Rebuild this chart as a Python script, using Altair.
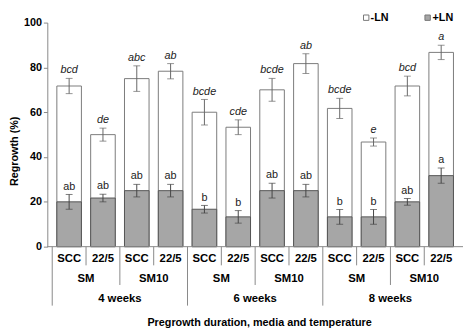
import altair as alt
import pandas as pd

weeks = ["4 weeks", "6 weeks", "8 weeks"]
media = ["SM", "SM10"]
temps = ["SCC", "22/5"]

neg_vals = [71.7, 50.0, 75.0, 78.3, 60.0, 53.3, 70.0, 81.7, 61.7, 46.7, 71.7, 86.7]
neg_err = [3.4, 2.9, 5.7, 3.4, 5.7, 3.3, 5.1, 4.4, 4.5, 1.8, 4.4, 3.2]
neg_let = ["bcd", "de", "abc", "ab", "bcde", "cde", "bcde", "ab", "bcde", "e", "bcd", "a"]

pos_vals = [20.0, 21.7, 25.0, 25.0, 16.7, 13.3, 25.0, 25.0, 13.3, 13.3, 20.0, 31.7]
pos_err = [3.3, 1.7, 2.8, 2.8, 1.7, 2.8, 3.3, 2.8, 3.3, 3.3, 1.5, 3.4]
pos_let = ["ab", "ab", "ab", "ab", "b", "b", "ab", "ab", "b", "b", "ab", "a"]

legend_labels = ["-LN", "+LN"]
x_title = "Pregrowth duration, media and temperature"
y_title = "Regrowth (%)"

FONT = "Liberation Sans"
W, H = 423, 228

rows = []
i = 0
for w in weeks:
    for m in media:
        for t in temps:
            rows.append(dict(idx=i, week=w, media=m, temp=t,
                             neg=neg_vals[i], neg_lo=neg_vals[i] - neg_err[i], neg_hi=neg_vals[i] + neg_err[i],
                             neg_let=neg_let[i],
                             pos=pos_vals[i], pos_lo=pos_vals[i] - pos_err[i], pos_hi=pos_vals[i] + pos_err[i],
                             pos_let=pos_let[i]))
            i += 1
df = pd.DataFrame(rows)

media_df = pd.DataFrame([dict(idx=2 * k + 0.5, label=media[k % 2]) for k in range(6)])
week_df = pd.DataFrame([dict(idx=4 * k + 1.5, label=weeks[k]) for k in range(3)])

div_temp = pd.DataFrame({"p": [b - 0.5 for b in range(12) if b % 2 == 1]})
div_media = pd.DataFrame({"p": [b - 0.5 for b in range(12) if b % 4 == 2]})
div_week = pd.DataFrame({"p": [b - 0.5 for b in range(12) if b % 4 == 0]})

xs = alt.Scale(domain=[-0.5, 11.5], nice=False, zero=False)
ys = alt.Scale(domain=[0, 100], nice=False)
X = alt.X("idx:Q", scale=xs, axis=None)

base = alt.Chart(df)

white = base.mark_bar(size=25, fill="white", stroke="#7a7a7a", strokeWidth=1).encode(
    x=X,
    y=alt.Y("neg:Q", scale=ys,
            axis=alt.Axis(values=[0, 20, 40, 60, 80, 100], title=None, grid=False,
                          labelFont=FONT, labelFontSize=11, labelFontWeight="bold",
                          labelColor="#000", tickSize=4, tickColor="#888", domainColor="#888",
                          labelPadding=2)),
)
grey = base.mark_bar(size=25, fill="#a6a6a6", stroke="#555555", strokeWidth=1).encode(
    x=X, y=alt.Y("pos:Q", scale=ys)
)


def errbars(lo, hi, color):
    r = base.mark_rule(color=color, strokeWidth=1).encode(
        x=X, y=alt.Y(f"{lo}:Q", scale=ys), y2=f"{hi}:Q")
    c1 = base.mark_tick(orient="horizontal", size=7, thickness=1, color=color).encode(
        x=X, y=alt.Y(f"{lo}:Q", scale=ys))
    c2 = base.mark_tick(orient="horizontal", size=7, thickness=1, color=color).encode(
        x=X, y=alt.Y(f"{hi}:Q", scale=ys))
    return [r, c1, c2]


err_neg = errbars("neg_lo", "neg_hi", "#666666")
err_pos = errbars("pos_lo", "pos_hi", "#444444")

txt_neg = base.mark_text(font=FONT, fontSize=11, fontStyle="italic", baseline="bottom", dy=-3,
                         color="#222").encode(x=X, y=alt.Y("neg_hi:Q", scale=ys), text="neg_let:N")
txt_pos = base.mark_text(font=FONT, fontSize=11, baseline="bottom", dy=-3,
                         color="#222").encode(x=X, y=alt.Y("pos_hi:Q", scale=ys), text="pos_let:N")

baseline = alt.Chart(pd.DataFrame({"a": [0]})).mark_rule(color="#888").encode(
    x=alt.value(0), x2=alt.value(W), y=alt.value(H))

row1 = base.mark_text(font=FONT, fontSize=11.5, fontWeight="bold", color="#000").encode(
    x=X, y=alt.value(H + 13), text="temp:N")
row2 = alt.Chart(media_df).mark_text(font=FONT, fontSize=11.5, fontWeight="bold", color="#000").encode(
    x=alt.X("idx:Q", scale=xs, axis=None), y=alt.value(H + 33), text="label:N")
row3 = alt.Chart(week_df).mark_text(font=FONT, fontSize=11.5, fontWeight="bold", color="#000").encode(
    x=alt.X("idx:Q", scale=xs, axis=None), y=alt.value(H + 53), text="label:N")


def dividers(d, length):
    return alt.Chart(d).mark_rule(color="#888").encode(
        x=alt.X("p:Q", scale=xs, axis=None), y=alt.value(H), y2=alt.value(H + length))


div1 = dividers(div_temp, 19)
div2 = dividers(div_media, 39)
div3 = dividers(div_week, 60)

xtitle = alt.Chart(pd.DataFrame({"t": [x_title]})).mark_text(
    font=FONT, fontSize=11, fontWeight="bold", color="#000").encode(
    x=alt.value(216), y=alt.value(H + 78), text="t:N")
ytitle = alt.Chart(pd.DataFrame({"t": [y_title]})).mark_text(
    font=FONT, fontSize=11, fontWeight="bold", color="#000", angle=270).encode(
    x=alt.value(-33), y=alt.value(131), text="t:N")

leg_df = pd.DataFrame({"label": legend_labels, "fill": ["white", "#a6a6a6"],
                       "sx": [324.5, 387], "tx": [329, 392]})
leg_sq = alt.Chart(leg_df).mark_square(size=30, strokeWidth=1, stroke="#777", opacity=1).encode(
    x=alt.X("sx:Q", scale=None), y=alt.value(-5), fill=alt.Fill("fill:N", scale=None))
leg_tx = alt.Chart(leg_df).mark_text(font=FONT, fontSize=11, fontWeight="bold", align="left",
                                     color="#000").encode(
    x=alt.X("tx:Q", scale=None), y=alt.value(-5), text="label:N")

chart = alt.layer(
    white, grey, *err_neg, *err_pos, txt_neg, txt_pos, baseline, div1, div2, div3,
    row1, row2, row3, xtitle, ytitle, leg_sq, leg_tx
).properties(
    width=W, height=H,
    padding={"left": 40, "top": 12, "right": 0, "bottom": 85},
    autosize=alt.AutoSizeParams(type="none"),
).configure_view(stroke=None)

chart.save("out.html", embed_options={"renderer": "svg", "actions": False})
